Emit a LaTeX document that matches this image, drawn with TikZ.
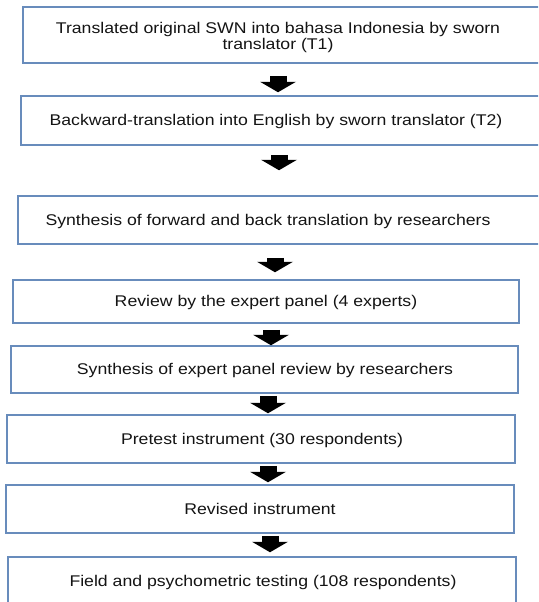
\documentclass[tikz,border=0pt]{standalone}
\usepackage{fontspec}
\newfontfamily\boxfont[FakeStretch=1.14]{Liberation Sans}
\usetikzlibrary{arrows.meta}
\definecolor{boxline}{RGB}{104,140,188}
\definecolor{txt}{RGB}{20,20,20}
\tikzset{
  stepbox/.style={draw=boxline, line width=1.5pt, rectangle, inner sep=0pt},
  steptext/.style={text=txt, font=\boxfont\fontsize{15.5}{16}\selectfont, align=center, inner sep=0pt},
  barrow/.style={draw=black, line width=17pt, -{Triangle[width=36pt,length=10.5pt,line width=0pt]}}
}
\newcommand\mkbox[5]{\node[stepbox, minimum width=#4pt-#2pt, minimum height=#5pt-#3pt] (#1) at ({(#2+#4)/2},{(#3+#5)/2}) {};}
\begin{document}
\begin{tikzpicture}[x=1pt,y=-1pt]
\useasboundingbox (0,0) rectangle (538,602);
\clip (0,0) rectangle (538,602);
\fill[white] (0,0) rectangle (538,602);
% boxes: name, left, top, right, bottom
\mkbox{b1}{23}{7}{545}{63}
\mkbox{b2}{21}{96}{545}{145}
\mkbox{b3}{18}{196}{545}{244}
\mkbox{b4}{13}{280}{519}{323}
\mkbox{b5}{11}{346}{518}{393}
\mkbox{b6}{7}{415}{515}{463}
\mkbox{b7}{6}{485}{514}{533}
\mkbox{b8}{8}{557}{516}{625}
% texts
\node[steptext] (t1) at (278,37) {Translated original SWN into bahasa Indonesia by sworn\\translator (T1)};
\node[steptext] (t2) at (276,121.5) {Backward-translation into English by sworn translator (T2)};
\node[steptext] (t3) at (268,221) {Synthesis of forward and back translation by researchers};
\node[steptext] (t4) at (266,302) {Review by the expert panel (4 experts)};
\node[steptext] (t5) at (265,370.5) {Synthesis of expert panel review by researchers};
\node[steptext] (t6) at (262,440.5) {Pretest instrument (30 respondents)};
\node[steptext] (t7) at (260,509) {Revised instrument};
\node[steptext] (t8) at (263,582) {Field and psychometric testing (108 respondents)};
% arrow axes
\coordinate (x1) at (278,0);
\coordinate (x2) at (279,0);
\coordinate (x3) at (275,0);
\coordinate (x4) at (271,0);
\coordinate (x5) at (268,0);
\coordinate (x6) at (268,0);
\coordinate (x7) at (270,0);
% arrows
\draw[barrow, shorten <=12pt, shorten >=3pt] (b1.south -| x1) -- (b2.north -| x1);
\draw[barrow, shorten <=9pt, shorten >=25pt] (b2.south -| x2) -- (b3.north -| x2);
\draw[barrow, shorten <=13pt, shorten >=7pt] (b3.south -| x3) -- (b4.north -| x3);
\draw[barrow, shorten <=6pt, shorten >=0pt] (b4.south -| x4) -- (b5.north -| x4);
\draw[barrow, shorten <=2pt, shorten >=1pt] (b5.south -| x5) -- (b6.north -| x5);
\draw[barrow, shorten <=2pt, shorten >=2pt] (b6.south -| x6) -- (b7.north -| x6);
\draw[barrow, shorten <=2pt, shorten >=4pt] (b7.south -| x7) -- (b8.north -| x7);
\end{tikzpicture}
\end{document}
